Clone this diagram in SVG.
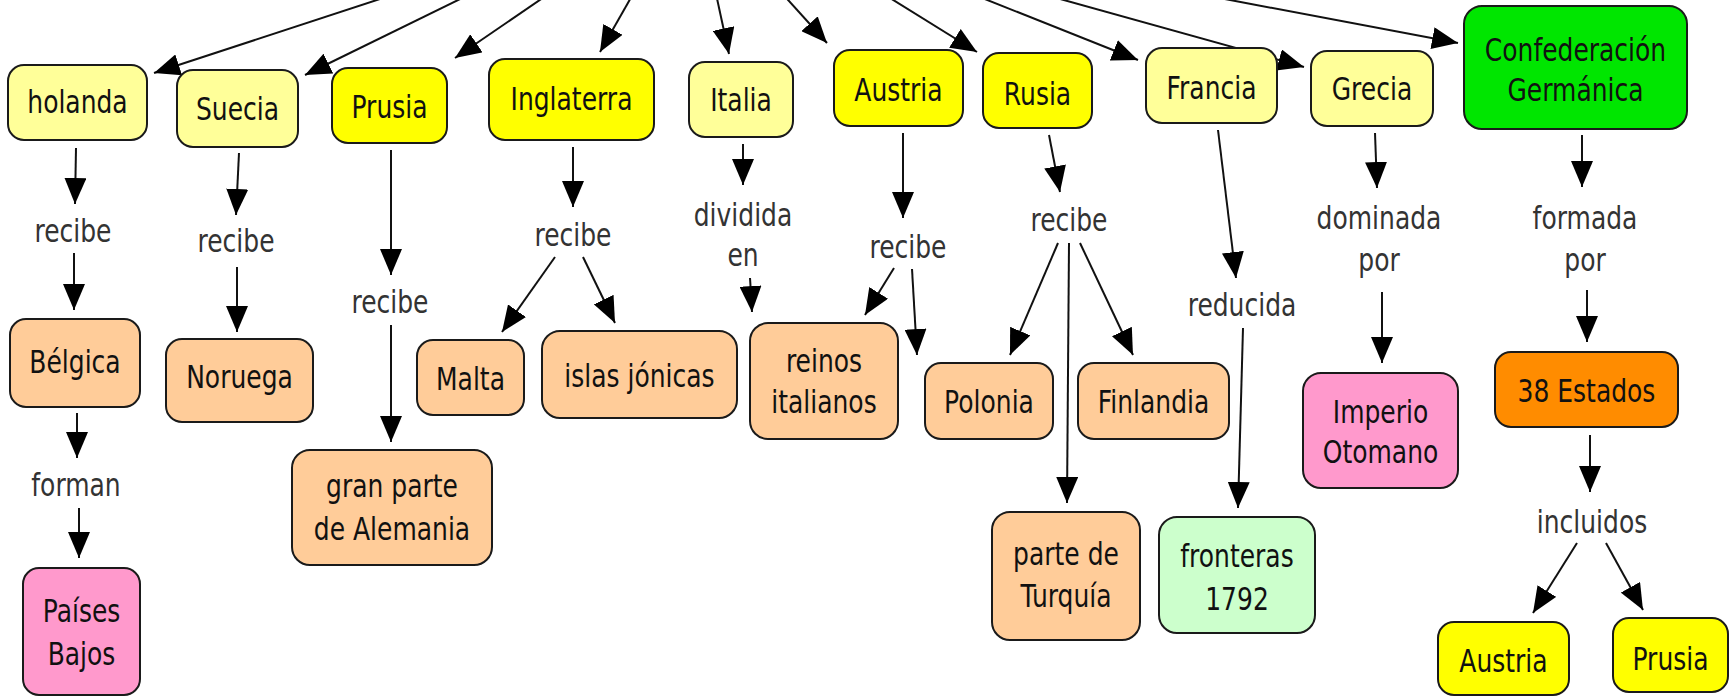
<svg xmlns="http://www.w3.org/2000/svg" width="1736" height="698" viewBox="0 0 1736 698">
<style>
.n rect{stroke:#1a1a1a;stroke-width:2}
text{font-family:"DejaVu Sans","Liberation Sans",sans-serif;font-size:25px;text-anchor:middle;fill:#111;transform:scale(1,1.25)}
.lbl{fill:#333}
.ly{fill:#FFFF99}.y{fill:#FFFF00}.pe{fill:#FFCC99}.pk{fill:#FF99CC}.gr{fill:#00E600}.lg{fill:#CCFFCC}.or{fill:#FF8C00}
#connectors path{fill:none;stroke:#111;stroke-width:2;marker-end:url(#ah)}
</style>
<defs>
<marker id="ah" viewBox="0 0 26 22" refX="26" refY="11" markerWidth="26" markerHeight="22" markerUnits="userSpaceOnUse" orient="auto">
<path d="M0,0 L26,11 L0,22 Z" fill="#000"/>
</marker>
</defs>
<rect width="1736" height="698" fill="#fff"/>
<g id="connectors">
<path d="M438,-20 L154,73"/>
<path d="M499,-20 L305,75"/>
<path d="M569,-20 L455,58"/>
<path d="M641,-20 L600,52"/>
<path d="M713,-20 L729,54"/>
<path d="M770,-20 L827,43"/>
<path d="M861,-20 L977,52"/>
<path d="M937,-20 L1138,60"/>
<path d="M992,-20 L1304,67"/>
<path d="M1124,-20 L1458,43"/>
<path d="M76,148 L75,204"/>
<path d="M74,253 L74,310"/>
<path d="M77,413 L77,458"/>
<path d="M79,508 L79,558"/>
<path d="M239,153 L236,215"/>
<path d="M237,267 L237,332"/>
<path d="M391,150 L391,275"/>
<path d="M391,325 L391,442"/>
<path d="M573,147 L573,207"/>
<path d="M555,257 L502,332"/>
<path d="M583,257 L615,323"/>
<path d="M743,144 L743,185"/>
<path d="M750,278 L752,312"/>
<path d="M903,133 L903,218"/>
<path d="M894,268 L865,315"/>
<path d="M912,269 L917,355"/>
<path d="M1049,135 L1060,192"/>
<path d="M1058,243 L1010,355"/>
<path d="M1069,243 L1067,503"/>
<path d="M1080,243 L1133,355"/>
<path d="M1218,130 L1236,278"/>
<path d="M1243,328 L1238,508"/>
<path d="M1375,133 L1377,188"/>
<path d="M1382,292 L1382,363"/>
<path d="M1582,135 L1582,187"/>
<path d="M1587,290 L1587,342"/>
<path d="M1590,435 L1590,492"/>
<path d="M1577,543 L1533,613"/>
<path d="M1606,543 L1643,610"/>
</g>
<g id="labels">
<text class="lbl" x="73" y="193.6">recibe</text>
<text class="lbl" x="236" y="201.6">recibe</text>
<text class="lbl" x="390" y="250.4">recibe</text>
<text class="lbl" x="573" y="196.8">recibe</text>
<text class="lbl" x="743" y="180.8">dividida</text>
<text class="lbl" x="743" y="212.8">en</text>
<text class="lbl" x="908" y="206.4">recibe</text>
<text class="lbl" x="1069" y="184.8">recibe</text>
<text class="lbl" x="1242" y="252.8">reducida</text>
<text class="lbl" x="1379" y="183.2">dominada</text>
<text class="lbl" x="1379" y="216.8">por</text>
<text class="lbl" x="1585" y="183.2">formada</text>
<text class="lbl" x="1585" y="216.8">por</text>
<text class="lbl" x="76" y="396.8">forman</text>
<text class="lbl" x="1592" y="426.4">incluidos</text>
</g>
<g id="n_holanda" class="n"><rect class="ly" x="8" y="65" width="139" height="75" rx="16"/><text x="77.5" y="90.4">holanda</text></g>
<g id="n_suecia" class="n"><rect class="ly" x="177" y="70" width="121" height="77" rx="16"/><text x="237.5" y="96">Suecia</text></g>
<g id="n_prusia" class="n"><rect class="y" x="332" y="68" width="115" height="75" rx="16"/><text x="389.5" y="94.4">Prusia</text></g>
<g id="n_inglaterra" class="n"><rect class="y" x="489" y="59" width="165" height="81" rx="16"/><text x="571.5" y="88">Inglaterra</text></g>
<g id="n_italia" class="n"><rect class="ly" x="689" y="62" width="104" height="75" rx="16"/><text x="741" y="88.8">Italia</text></g>
<g id="n_austria" class="n"><rect class="y" x="834" y="50" width="129" height="76" rx="16"/><text x="898.5" y="80.8">Austria</text></g>
<g id="n_rusia" class="n"><rect class="y" x="983" y="53" width="109" height="75" rx="16"/><text x="1037.5" y="84">Rusia</text></g>
<g id="n_francia" class="n"><rect class="ly" x="1146" y="48" width="131" height="75" rx="16"/><text x="1211.5" y="79.2">Francia</text></g>
<g id="n_grecia" class="n"><rect class="ly" x="1311" y="51" width="122" height="75" rx="16"/><text x="1372" y="80">Grecia</text></g>
<g id="n_confederacion" class="n"><rect class="gr" x="1464" y="6" width="223" height="123" rx="18"/><text x="1575.5" y="48.8">Confederación</text><text x="1575.5" y="80.8">Germánica</text></g>
<g id="n_belgica" class="n"><rect class="pe" x="10" y="319" width="130" height="88" rx="16"/><text x="75" y="298.4">Bélgica</text></g>
<g id="n_paises_bajos" class="n"><rect class="pk" x="23" y="568" width="117" height="127" rx="16"/><text x="81.5" y="497.6">Países</text><text x="81.5" y="532">Bajos</text></g>
<g id="n_noruega" class="n"><rect class="pe" x="166" y="339" width="147" height="83" rx="16"/><text x="239.5" y="310.4">Noruega</text></g>
<g id="n_gran_parte" class="n"><rect class="pe" x="292" y="450" width="200" height="115" rx="18"/><text x="392" y="397.6">gran parte</text><text x="392" y="432">de Alemania</text></g>
<g id="n_malta" class="n"><rect class="pe" x="417" y="340" width="107" height="75" rx="16"/><text x="470.5" y="312">Malta</text></g>
<g id="n_islas" class="n"><rect class="pe" x="542" y="331" width="195" height="87" rx="18"/><text x="639.5" y="309.6">islas jónicas</text></g>
<g id="n_reinos" class="n"><rect class="pe" x="750" y="323" width="148" height="116" rx="18"/><text x="824" y="297.6">reinos</text><text x="824" y="330.4">italianos</text></g>
<g id="n_polonia" class="n"><rect class="pe" x="925" y="363" width="128" height="76" rx="16"/><text x="989" y="330.4">Polonia</text></g>
<g id="n_finlandia" class="n"><rect class="pe" x="1078" y="363" width="151" height="76" rx="16"/><text x="1153.5" y="330.4">Finlandia</text></g>
<g id="n_turquia" class="n"><rect class="pe" x="992" y="512" width="148" height="128" rx="18"/><text x="1066" y="452">parte de</text><text x="1066" y="485.6">Turquía</text></g>
<g id="n_fronteras" class="n"><rect class="lg" x="1159" y="517" width="156" height="116" rx="18"/><text x="1237" y="453.6">fronteras</text><text x="1237" y="488">1792</text></g>
<g id="n_imperio" class="n"><rect class="pk" x="1303" y="373" width="155" height="115" rx="18"/><text x="1380.5" y="338.4">Imperio</text><text x="1380.5" y="370.4">Otomano</text></g>
<g id="n_38_estados" class="n"><rect class="or" x="1495" y="352" width="183" height="75" rx="16"/><text x="1586.5" y="321.6">38 Estados</text></g>
<g id="n_austria2" class="n"><rect class="y" x="1438" y="622" width="131" height="73" rx="16"/><text x="1503.5" y="537.6">Austria</text></g>
<g id="n_prusia2" class="n"><rect class="y" x="1613" y="618" width="115" height="74" rx="16"/><text x="1670.5" y="536">Prusia</text></g>
</svg>
